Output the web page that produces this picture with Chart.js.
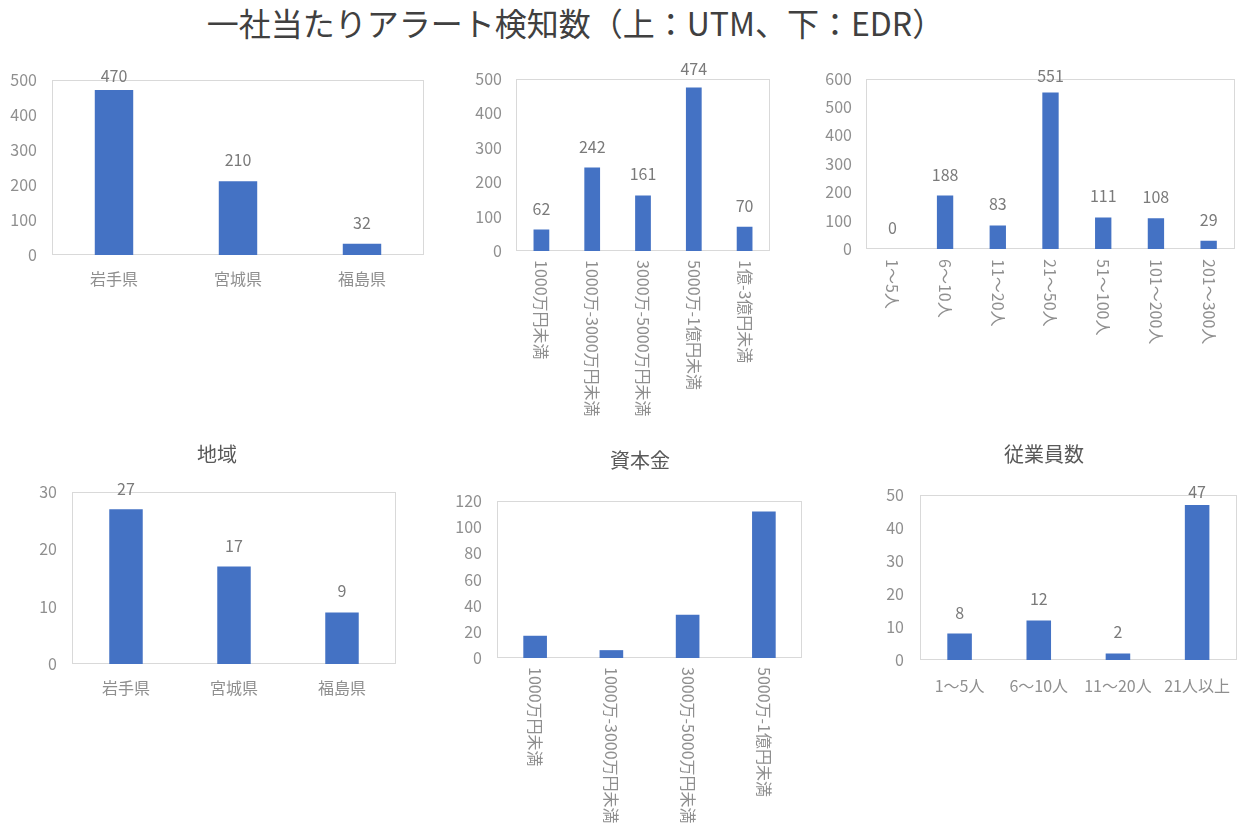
<!DOCTYPE html>
<html>
<head>
<meta charset="utf-8">
<script src="https://cdn.jsdelivr.net/npm/chart.js@4.4.0/dist/chart.umd.min.js"></script>
<style>
html,body{margin:0;padding:0;background:#fff;}
body{width:1247px;height:823px;overflow:hidden;position:relative;font-family:"Noto Sans CJK JP","Noto Sans",sans-serif;}
#mainTitle{position:absolute;left:8px;top:2px;width:1135px;text-align:center;font-size:32px;line-height:40px;color:#404040;white-space:nowrap;}
.ctitle{position:absolute;width:200px;text-align:center;font-size:20px;line-height:24px;color:#595959;white-space:nowrap;}
canvas{position:absolute;}
</style>
</head>
<body>
<div id="mainTitle">一社当たりアラート検知数（上：UTM、下：EDR）</div>
<canvas id="c1"></canvas>
<canvas id="c2"></canvas>
<canvas id="c3"></canvas>
<canvas id="c4"></canvas>
<canvas id="c5"></canvas>
<canvas id="c6"></canvas>
<script>
// ---- data ----
const utmRegionLabels = ['岩手県', '宮城県', '福島県'];
const utmRegionValues = [470, 210, 32];

const utmCapitalLabels = ['1000万円未満', '1000万-3000万円未満', '3000万-5000万円未満', '5000万-1億円未満', '1億-3億円未満'];
const utmCapitalValues = [62, 242, 161, 474, 70];

const utmEmployeeLabels = ['1～5人', '6～10人', '11～20人', '21～50人', '51～100人', '101～200人', '201～300人'];
const utmEmployeeValues = [0, 188, 83, 551, 111, 108, 29];

const edrRegionLabels = ['岩手県', '宮城県', '福島県'];
const edrRegionValues = [27, 17, 9];

const edrCapitalLabels = ['1000万円未満', '1000万-3000万円未満', '3000万-5000万円未満', '5000万-1億円未満'];
const edrCapitalValues = [17, 6, 33, 112];

const edrEmployeeLabels = ['1～5人', '6～10人', '11～20人', '21人以上'];
const edrEmployeeValues = [8, 12, 2, 47];

const edrTitles = ['地域', '資本金', '従業員数'];

// y-axis ranges (max, step)
const yMaxes = [500, 500, 600, 30, 120, 50];
const ySteps = [100, 100, 100, 10, 20, 10];

// ---- style ----
const FONT = '"Noto Sans CJK JP", "Noto Sans", sans-serif';
const BAR = '#4472C4';
const TICK = '#8f8f8f';
const VALUE = '#7a7a7a';
const FS = 16;

const excelPlugin = {
  id: 'excel',
  beforeDatasetsDraw(chart) {
    const {ctx, chartArea: a} = chart;
    ctx.save();
    ctx.strokeStyle = '#d9d9d9';
    ctx.lineWidth = 1;
    const l = Math.round(a.left) + 0.5, t = Math.round(a.top) + 0.5;
    const r = Math.round(a.right) - 0.5, b = Math.round(a.bottom) - 0.5;
    ctx.strokeRect(l, t, r - l, b - t);
    ctx.restore();
  },
  afterDatasetsDraw(chart, args, opts) {
    const ctx = chart.ctx;
    ctx.save();
    if (opts.showValues) {
      const meta = chart.getDatasetMeta(0);
      const data = chart.data.datasets[0].data;
      ctx.fillStyle = VALUE;
      ctx.font = FS + 'px ' + FONT;
      ctx.textAlign = 'center';
      ctx.textBaseline = 'alphabetic';
      meta.data.forEach((bar, i) => {
        const y = Math.max(bar.y - 15, chart.chartArea.top + opts.clamp);
        ctx.fillText(String(data[i]), bar.x, y);
      });
    }
    if (opts.rotate) {
      const sx = chart.scales.x;
      ctx.fillStyle = TICK;
      ctx.font = FS + 'px ' + FONT;
      ctx.textAlign = 'left';
      ctx.textBaseline = 'middle';
      chart.data.labels.forEach((lab, i) => {
        const x = sx.getPixelForTick(i);
        ctx.save();
        ctx.translate(x, sx.top + opts.rotGap);
        ctx.rotate(Math.PI / 2);
        ctx.fillText(lab, 0, 0);
        ctx.restore();
      });
    }
    ctx.restore();
  }
};

function makeChart(id, spec) {
  const cv = document.getElementById(id);
  const W = spec.x1 - spec.x0, H = spec.y1 - spec.y0;
  cv.width = W; cv.height = H;
  cv.style.left = spec.x0 + 'px'; cv.style.top = spec.y0 + 'px';
  cv.style.width = W + 'px'; cv.style.height = H + 'px';
  const yw = spec.L - spec.x0;
  const xh = spec.y1 - spec.B;
  if (spec.title) {
    const d = document.createElement('div');
    d.className = 'ctitle';
    d.textContent = spec.title;
    d.style.left = (spec.titleX - 100) + 'px';
    d.style.top = (spec.titleY - 12) + 'px';
    document.body.appendChild(d);
  }
  return new Chart(cv, {
    type: 'bar',
    data: {
      labels: spec.labels,
      datasets: [{
        data: spec.values,
        backgroundColor: BAR,
        borderWidth: 0,
        barPercentage: 0.31,
        categoryPercentage: 1.0
      }]
    },
    options: {
      responsive: false,
      animation: false,
      devicePixelRatio: 1,
      layout: {padding: {left: 0, top: spec.T - spec.y0, right: spec.x1 - spec.R, bottom: 0}},
      plugins: {
        legend: {display: false},
        tooltip: {enabled: false},
        title: {display: false},
        excel: {showValues: spec.showValues, clamp: spec.clamp || 0, rotate: spec.rotate, rotGap: spec.rotGap || 9}
      },
      scales: {
        x: {
          grid: {display: false, drawTicks: false},
          border: {display: false},
          ticks: {
            display: !spec.rotate, color: TICK, padding: spec.xPad || 14,
            maxRotation: 0, minRotation: 0, autoSkip: false,
            font: {family: FONT, size: FS}
          },
          afterFit: s => { s.height = xh; }
        },
        y: {
          min: 0, max: spec.max,
          grid: {display: false, drawTicks: false},
          border: {display: false},
          ticks: {
            stepSize: spec.step, color: TICK, padding: spec.yPad || 15,
            font: {family: FONT, size: FS}
          },
          afterFit: s => { s.width = yw; }
        }
      }
    },
    plugins: [excelPlugin]
  });
}

makeChart('c1', {x0: 0, y0: 55, x1: 440, y1: 300, L: 52, T: 72, R: 424, B: 255,
  labels: utmRegionLabels, values: utmRegionValues, max: yMaxes[0], step: ySteps[0],
  showValues: true, clamp: 2, yPad: 15, xPad: 14});

makeChart('c2', {x0: 440, y0: 55, x1: 810, y1: 420, L: 516, T: 77, R: 770, B: 251,
  labels: utmCapitalLabels, values: utmCapitalValues, max: yMaxes[1], step: ySteps[1],
  showValues: true, clamp: -4, yPad: 14, rotate: true, rotGap: 9});

makeChart('c3', {x0: 810, y0: 55, x1: 1247, y1: 360, L: 866, T: 72, R: 1235, B: 249,
  labels: utmEmployeeLabels, values: utmEmployeeValues, max: yMaxes[2], step: ySteps[2],
  showValues: true, clamp: 3, yPad: 14, rotate: true, rotGap: 10});

makeChart('c4', {x0: 0, y0: 430, x1: 440, y1: 720, L: 72, T: 492, R: 396, B: 664,
  title: edrTitles[0], titleX: 217, titleY: 454,
  labels: edrRegionLabels, values: edrRegionValues, max: yMaxes[3], step: ySteps[3],
  showValues: true, clamp: 3, yPad: 15, xPad: 14});

makeChart('c5', {x0: 420, y0: 430, x1: 830, y1: 823, L: 497, T: 501, R: 802, B: 658,
  title: edrTitles[1], titleX: 640, titleY: 460,
  labels: edrCapitalLabels, values: edrCapitalValues, max: yMaxes[4], step: ySteps[4],
  showValues: false, yPad: 15, rotate: true, rotGap: 9});

makeChart('c6', {x0: 840, y0: 430, x1: 1247, y1: 720, L: 920, T: 495, R: 1239, B: 660,
  title: edrTitles[2], titleX: 1044, titleY: 454,
  labels: edrEmployeeLabels, values: edrEmployeeValues, max: yMaxes[5], step: ySteps[5],
  showValues: true, clamp: 3, yPad: 16, xPad: 16});
</script>
</body>
</html>
